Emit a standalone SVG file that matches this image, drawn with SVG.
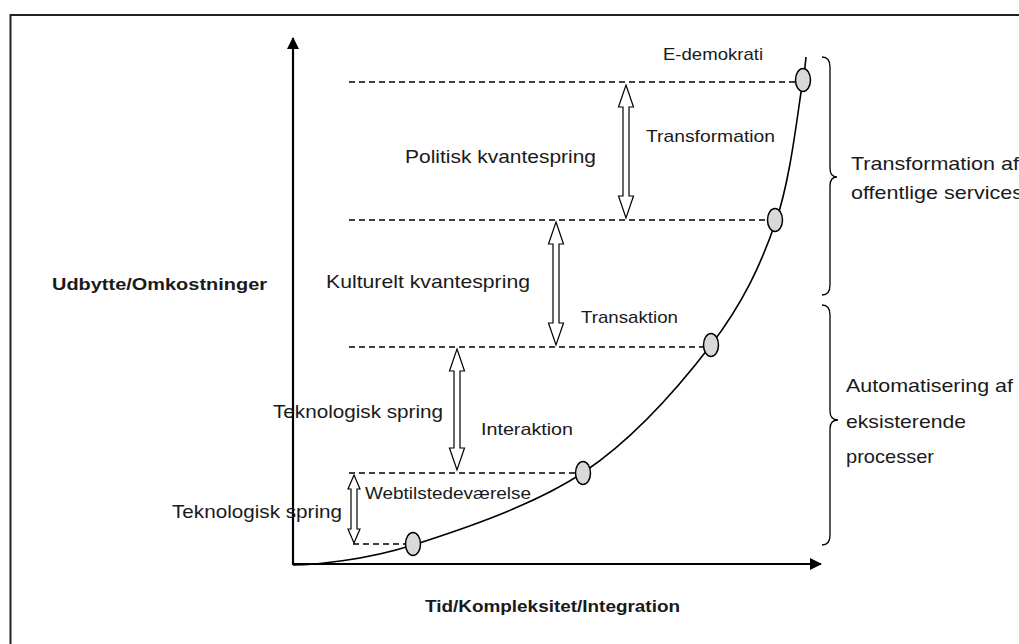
<svg xmlns="http://www.w3.org/2000/svg" width="1019" height="644" viewBox="0 0 1019 644">
<style>
text{font-family:"Liberation Sans",Arial,sans-serif;fill:#1a1a1a}
.s{font-size:17px}
.l{font-size:19px}
.b{font-size:17px;font-weight:bold}
.dash{stroke:#000;stroke-width:1.3;stroke-dasharray:6 4;fill:none}
.dot{fill:#d9d9d9;stroke:#000;stroke-width:1.5}
.dbl{fill:#fff;stroke:#000;stroke-width:1.2}
.brace{fill:none;stroke:#000;stroke-width:1.3}
</style>
<defs>
<marker id="ah" markerWidth="12" markerHeight="12" refX="11" refY="6" orient="auto" markerUnits="userSpaceOnUse" viewBox="0 0 12 12">
<path d="M0,0 L12,6 L0,12 z" fill="#000"/>
</marker>
</defs>
<rect x="0" y="0" width="1019" height="644" fill="#fff"/>
<rect x="10.5" y="15" width="1030" height="660" fill="none" stroke="#222" stroke-width="2"/>

<g id="axes">
<line x1="293" y1="565" x2="293" y2="38" stroke="#000" stroke-width="2.2" marker-end="url(#ah)"/>
<line x1="292" y1="564" x2="821" y2="564" stroke="#000" stroke-width="2.2" marker-end="url(#ah)"/>
</g>

<g id="connectors">
<line class="dash" x1="349" y1="82" x2="795" y2="82"/>
<line class="dash" x1="349" y1="220" x2="768" y2="220"/>
<line class="dash" x1="349" y1="347" x2="704" y2="347"/>
<line class="dash" x1="349" y1="473" x2="576" y2="473"/>
<line class="dash" x1="353" y1="544" x2="406" y2="544"/>
<path d="M293,565 C313,565 364.5,560.5 413,545 C461.5,529.5 534.3,505.3 584,472 C633.7,438.7 679,386.8 711,345 C743,303.2 760.7,265.2 776,221 C791.3,176.8 798,107.3 803,80 C804.5,72 805.5,64 806,57" fill="none" stroke="#000" stroke-width="1.6"/>
<polygon class="dbl" points="626,85 633.5,107 629,107 629,196 633.5,196 626,218 618.5,196 623,196 623,107 618.5,107"/>
<polygon class="dbl" points="556,222 563.5,244 559,244 559,323 563.5,323 556,345 548.5,323 553,323 553,244 548.5,244"/>
<polygon class="dbl" points="457,349 464.5,371 460,371 460,448 464.5,448 457,470 449.5,448 454,448 454,371 449.5,371"/>
<polygon class="dbl" points="354,475 360,489 357,489 357,529 360,529 354,543 348,529 351,529 351,489 348,489"/>
<path class="brace" d="M822,57 Q830,57 830,67 L830,168 Q830,177 837,177 Q830,177 830,186 L830,285 Q830,295 822,295"/>
<path class="brace" d="M822,305 Q830,305 830,315 L830,411 Q830,420 838,420 Q830,420 830,429 L830,535 Q830,545 822,545"/>
</g>

<g id="node-e-demokrati">
<ellipse class="dot" cx="803" cy="80" rx="7.5" ry="11.5"/>
<text class="s" x="663" y="60" textLength="100" lengthAdjust="spacingAndGlyphs">E-demokrati</text>
</g>
<g id="node-transformation">
<ellipse class="dot" cx="775" cy="220" rx="7.5" ry="11.5"/>
<text class="s" x="646" y="142" textLength="129" lengthAdjust="spacingAndGlyphs">Transformation</text>
</g>
<g id="node-transaktion">
<ellipse class="dot" cx="711" cy="345" rx="7.5" ry="11.5"/>
<text class="s" x="581" y="323" textLength="97" lengthAdjust="spacingAndGlyphs">Transaktion</text>
</g>
<g id="node-interaktion">
<ellipse class="dot" cx="583" cy="473" rx="7.5" ry="11.5"/>
<text class="s" x="481" y="435" textLength="92" lengthAdjust="spacingAndGlyphs">Interaktion</text>
</g>
<g id="node-webtilstedevaerelse">
<ellipse class="dot" cx="413" cy="544" rx="7.5" ry="11.5"/>
<text class="s" x="365" y="499" textLength="166" lengthAdjust="spacingAndGlyphs">Webtilstedeværelse</text>
</g>

<g id="labels">
<text class="l" x="405" y="163" textLength="191" lengthAdjust="spacingAndGlyphs">Politisk kvantespring</text>
<text class="l" x="326" y="288" textLength="204" lengthAdjust="spacingAndGlyphs">Kulturelt kvantespring</text>
<text class="l" x="273" y="418" textLength="170" lengthAdjust="spacingAndGlyphs">Teknologisk spring</text>
<text class="l" x="172" y="518" textLength="170" lengthAdjust="spacingAndGlyphs">Teknologisk spring</text>
<text class="b" x="52" y="290" textLength="215" lengthAdjust="spacingAndGlyphs">Udbytte/Omkostninger</text>
<text class="b" x="425" y="612" textLength="255" lengthAdjust="spacingAndGlyphs">Tid/Kompleksitet/Integration</text>
<text class="l" x="851" y="170" textLength="168" lengthAdjust="spacingAndGlyphs">Transformation af</text>
<text class="l" x="851" y="199" textLength="172" lengthAdjust="spacingAndGlyphs">offentlige services</text>
<text class="l" x="846" y="392" textLength="167" lengthAdjust="spacingAndGlyphs">Automatisering af</text>
<text class="l" x="846" y="428" textLength="120" lengthAdjust="spacingAndGlyphs">eksisterende</text>
<text class="l" x="846" y="463" textLength="88" lengthAdjust="spacingAndGlyphs">processer</text>
</g>
</svg>
